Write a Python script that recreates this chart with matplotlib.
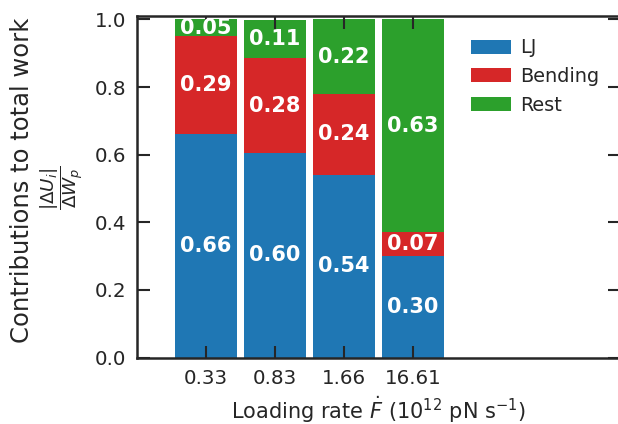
#!/usr/bin/env python3

import matplotlib
matplotlib.use( "Agg" )
import matplotlib.pyplot as plt
import numpy as np

rates = [ "0.33", "0.83", "1.66", "16.61" ]
lj = [ 0.66, 0.604, 0.54, 0.30 ]
bending = [ 0.29, 0.281, 0.24, 0.07 ]
rest = [ 0.05, 0.114, 0.22, 0.63 ]
names = [ "LJ", "Bending", "Rest" ]
colors = [ "#1f77b4", "#d62728", "#2ca02c" ]

dark = "#262626"
plt.rcParams[ "font.family" ] = "DejaVu Sans"
plt.rcParams[ "text.color" ] = dark
plt.rcParams[ "axes.labelcolor" ] = dark
plt.rcParams[ "xtick.color" ] = dark
plt.rcParams[ "ytick.color" ] = dark

fig = plt.figure( figsize=(6.18, 4.24), dpi=100 )
ax = fig.add_axes( [ 137/618, 1 - 357.5/424, 483/618, 341.5/424 ] )

X = np.arange( len(rates) )
bottom = np.zeros( len(rates) )
for vals, name, color in zip( [ lj, bending, rest ], names, colors ):
    vals = np.array( vals )
    ax.bar( X, vals, 0.9, bottom=bottom, color=color, label=name )
    for x, b, v in zip( X, bottom, vals ):
        ax.text( x, b + v/2, "%.2f" % v, ha="center", va="center",
                 color="white", fontsize=15, fontweight="bold" )
    bottom = bottom + vals

ax.set_xlim( -1, 6 )
ax.set_ylim( 0, 1.01 )
ax.set_xticks( X )
ax.set_xticklabels( rates )
ax.set_yticks( [ 0, 0.2, 0.4, 0.6, 0.8, 1.0 ] )
ax.tick_params( direction="in", top=True, right=True, length=9, width=1.5,
                labelsize=14.3, pad=8 )
for s in ax.spines.values():
    s.set_linewidth( 1.8 )
    s.set_color( dark )

ax.set_xlabel( r"Loading rate $\dot{F}$ ($10^{12}$ pN s$^{-1}$)", fontsize=15, labelpad=5 )
# y label: two pieces so the fraction sits close to the first line
fig.text( 22/618, 1 - 180/424, "Contributions to total work", rotation=90,
          ha="center", va="center", fontsize=17.5 )
fig.text( 62/618, 1 - 188/424, r"$\dfrac{|\Delta U_i|}{\Delta W_p}$", rotation=90,
          ha="center", va="center", fontsize=13.2 )

ax.legend( loc="upper left", bbox_to_anchor=( 0.655, 0.985 ), frameon=False,
           fontsize=13.9, handlelength=2.1, handleheight=0.75, labelspacing=0.5,
           handletextpad=0.45 )

plt.savefig( "out.png", dpi=100 )
